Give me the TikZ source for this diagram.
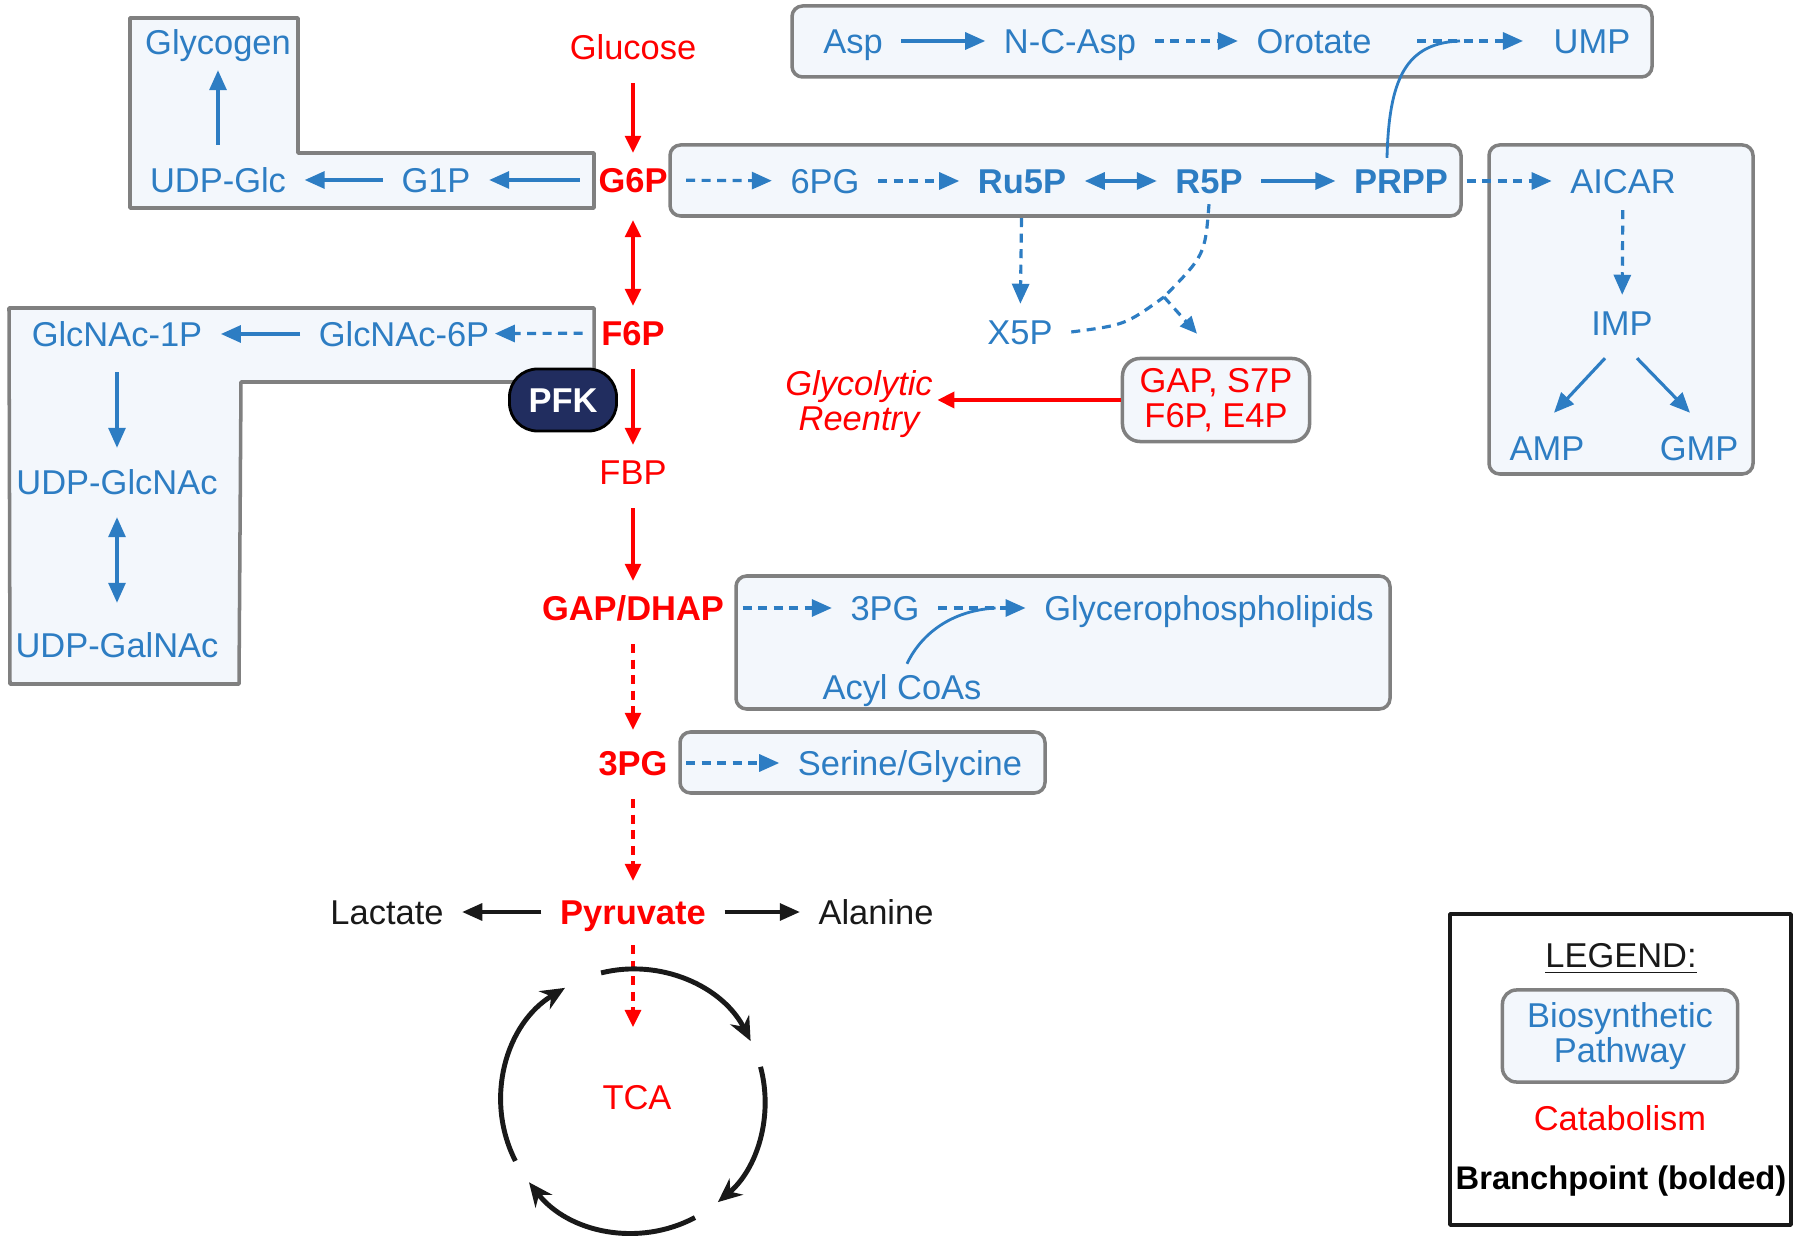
\documentclass[tikz,border=0pt]{standalone}
\usepackage{fontspec}
\setmainfont{Liberation Sans}
\usetikzlibrary{arrows.meta}
\definecolor{bioblue}{RGB}{45,125,195}
\definecolor{catred}{RGB}{255,0,0}
\definecolor{boxfill}{RGB}{243,247,252}
\definecolor{boxgray}{RGB}{128,128,128}
\definecolor{pfknavy}{RGB}{33,45,95}
\definecolor{ink}{RGB}{25,25,25}

\begin{document}
\begin{tikzpicture}
[x=0.01cm,y=-0.01cm,line join=round,%
  every node/.style={inner xsep=1.8mm,inner ysep=1mm,text height=2.5mm,text depth=0pt,
    font=\fontsize{9.8pt}{9.8pt}\selectfont},%
  bio/.style={text=bioblue},%
  cat/.style={text=catred},%
  bp/.style={font=\fontsize{9.8pt}{9.8pt}\selectfont\bfseries},%
  twoline/.style={text height=,text depth=,align=center},%
  pbox/.style={draw=boxgray,fill=boxfill,line width=1pt,rounded corners=3pt},%
  lbox/.style={draw=boxgray,fill=boxfill,line width=1pt},%
  ba/.style={draw=bioblue,line width=0.9pt,-{Triangle[length=2mm,width=1.7mm]}},%
  bab/.style={ba,{Triangle[length=2mm,width=1.7mm]}-{Triangle[length=2mm,width=1.7mm]}},%
  bd/.style={ba,dash pattern=on 0.9mm off 0.65mm},%
  bv/.style={shorten <=1.2mm,shorten >=0.5mm},%
  ra/.style={draw=catred,line width=0.9pt,-{Triangle[length=1.7mm,width=1.6mm]},shorten <=1.3mm,shorten >=0.4mm},%
  rd/.style={ra,dash pattern=on 0.9mm off 0.65mm,shorten >=1mm},%
  ka/.style={draw=ink,line width=0.9pt,-{Triangle[length=2mm,width=1.7mm]}},%
  cyc/.style={draw=ink,line width=1.4pt,-{Stealth[length=2.4mm,width=2.1mm]}}]
\useasboundingbox (0,0) rectangle (1800,1240);

\draw[lbox] (130,18) -- (298,18) -- (298,153) -- (594,153) -- (594,208) -- (130,208) -- cycle;
\draw[lbox] (9,308) -- (594,308) -- (594,382) -- (241,382) -- (239,684) -- (10,684) -- cycle;
\draw[pbox] (792,6) rectangle (1652,77);
\draw[pbox] (670,145) rectangle (1461,216);
\draw[pbox] (1489,145) rectangle (1753,474);
\draw[pbox] (736,576) rectangle (1390,709);
\draw[pbox] (680,732) rectangle (1045,793);
\draw[draw=ink,line width=1pt] (1450,914) rectangle (1791,1225);

\node[cat] (glc) at (633,47) {Glucose};
\node[cat,bp] (g6p) at (633,180) {G6P};
\node[cat,bp] (f6p) at (633,333) {F6P};
\node[cat] (fbp) at (633,472) {FBP};
\node[cat,bp] (gap) at (633,608) {GAP/DHAP};
\node[cat,bp] (pg3) at (633,763) {3PG};
\node[cat,bp] (pyr) at (633,912) {Pyruvate};
\node[cat] (tca) at (637,1097) {TCA};
\node[text=ink] (lac) at (387,912) {Lactate};
\node[text=ink] (ala) at (876,912) {Alanine};
\coordinate (tcain) at (633,1027);

\node[bio] (glyc) at (218,42) {Glycogen};
\node[bio] (udpglc) at (218,180) {UDP-Glc};
\node[bio] (g1p) at (436,180) {G1P};

\node[bio] (nac1p) at (117,334) {GlcNAc-1P};
\node[bio] (nac6p) at (404,334) {GlcNAc-6P};
\node[bio] (udpglcnac) at (117,482) {UDP-GlcNAc};
\node[bio] (udpgalnac) at (117,645) {UDP-GalNAc};
\node[draw=black,fill=pfknavy,text=white,bp,rounded corners=0.28cm,minimum width=1.07cm,
  minimum height=0.62cm,inner sep=0pt,line width=0.8pt] (pfk) at (563,400) {PFK};

\node[bio] (asp) at (853,41) {Asp};
\node[bio] (ncasp) at (1070,41) {N-C-Asp};
\node[bio] (oro) at (1314,41) {Orotate};
\node[bio] (ump) at (1592,41) {UMP};

\node[bio] (pg6) at (825,181) {6PG};
\node[bio,bp] (ru5p) at (1022,181) {Ru5P};
\node[bio,bp] (r5p) at (1209,181) {R5P};
\node[bio,bp] (prpp) at (1401,181) {PRPP};
\node[bio] (aicar) at (1623,181) {AICAR};
\node[bio] (imp) at (1622,323) {IMP};
\node[bio] (amp) at (1547,448) {AMP};
\node[bio] (gmp) at (1699,448) {GMP};
\node[bio] (x5p) at (1020,332) {X5P};
\coordinate (tk) at (1164,297);

\node[cat,twoline,draw=boxgray,fill=boxfill,line width=1pt,rounded corners=5pt,minimum width=1.87cm,
  minimum height=0.83cm,inner sep=0pt] (gs) at (1216,400) {GAP, S7P\\F6P, E4P};
\node[cat,twoline,font=\fontsize{9.8pt}{9.8pt}\selectfont\itshape,inner xsep=0.4mm] (reent) at (859,404) {Glycolytic\\Reentry};

\node[bio] (pg3b) at (885,608) {3PG};
\node[bio] (gpl) at (1209,608) {Glycerophospholipids};
\node[bio] (acyl) at (902,687) {Acyl CoAs};
\node[bio] (ser) at (910,763) {Serine/Glycine};

\node[text=ink] (leg) at (1621,955) {\underline{LEGEND:}};
\node[bio,twoline,draw=boxgray,fill=boxfill,line width=1pt,rounded corners=4pt,minimum width=2.35cm,
  minimum height=0.92cm,inner sep=0pt] (legbio) at (1620,1036) {Biosynthetic\\Pathway};
\node[cat] (legcat) at (1620,1118) {Catabolism};
\node[text=black,font=\fontsize{9.3pt}{10pt}\selectfont\bfseries] (legbp) at (1621,1177) {Branchpoint (bolded)};

\draw[ra] (glc) -- (g6p);
\draw[ra,{Triangle[length=1.7mm,width=1.6mm]}-{Triangle[length=1.7mm,width=1.6mm]},shorten <=1.7mm] (g6p) -- (f6p);
\draw[ra] (f6p) -- (fbp);
\draw[ra] (fbp) -- (gap);
\draw[rd] (gap) -- (pg3);
\draw[rd,shorten >=0.8mm] (pg3) -- (pyr);
\draw[rd,shorten <=1mm,shorten >=0pt] (pyr) -- (tcain);
\draw[ka] (pyr) -- (lac);
\draw[ka] (pyr) -- (ala);

\draw[ba] (g6p) -- (g1p);
\draw[ba] (g1p) -- (udpglc);
\draw[ba,bv] (udpglc) -- (glyc);
\draw[bd,shorten >=-1.3mm] (f6p) -- (nac6p);
\draw[ba] (nac6p) -- (nac1p);
\draw[ba,shorten <=1.5mm,shorten >=1.1mm] (nac1p) -- (udpglcnac);
\draw[bab,shorten <=1.2mm,shorten >=1.9mm] (udpglcnac) -- (udpgalnac);

\draw[ba] (asp) -- (ncasp);
\draw[bd] (ncasp) -- (oro);
\draw[bd,shorten <=2.7mm,shorten >=1.2mm] (oro) -- (ump);
\draw[draw=bioblue,line width=0.8pt] ([xshift=-0.14cm]prpp.north) .. controls (1389,80) and (1405,43) .. ([xshift=-0.75cm]ump.west);

\draw[bd] (g6p) -- (pg6);
\draw[bd] (pg6) -- (ru5p);
\draw[bab] (ru5p) -- (r5p);
\draw[ba] (r5p) -- (prpp);
\draw[bd] (prpp) -- (aicar);
\draw[bd,shorten <=0.6mm,shorten >=0.5mm] (aicar) -- (imp);
\draw[ba] ([xshift=-0.17cm,yshift=-0.12cm]imp.south) -- ([xshift=0.07cm,yshift=0.12cm]amp.north);
\draw[ba] ([xshift=0.15cm,yshift=-0.12cm]imp.south) -- ([xshift=-0.09cm,yshift=0.12cm]gmp.north);

\draw[bd,bv,shorten <=1.4mm] (ru5p) -- (x5p);
\draw[draw=bioblue,line width=0.9pt,dash pattern=on 0.9mm off 0.65mm] (r5p.south) .. controls (1205,255) .. (tk);
\draw[draw=bioblue,line width=0.9pt,dash pattern=on 0.9mm off 0.65mm] (x5p.east) .. controls (1125,325) .. (tk);
\draw[bd,-{Triangle[length=1.7mm,width=1.5mm]}] (tk) -- ([xshift=-0.19cm,yshift=0.23cm]gs.north);
\draw[ra,line width=1.1pt,shorten <=0pt,shorten >=0pt] (gs.west) -- (gs.west -| reent.east);

\draw[bd] (gap) -- (pg3b);
\draw[bd] (pg3b) -- (gpl);
\draw[draw=bioblue,line width=0.8pt] ([xshift=0.05cm]acyl.north) .. controls (918,640) and (945,611) .. ([xshift=-0.3cm]gpl.west);
\draw[bd] (pg3) -- (ser);

\coordinate (ctr) at (633,1101);
\draw[cyc] ([shift={(-104:132)}]ctr) arc[start angle=-104,end angle=-27,radius=132];
\draw[cyc] ([shift={(-15:132)}]ctr) arc[start angle=-15,end angle=50,radius=132];
\draw[cyc] ([shift={(62:132)}]ctr) arc[start angle=62,end angle=142,radius=132];
\draw[cyc] ([shift={(153:132)}]ctr) arc[start angle=153,end angle=239,radius=132];
\end{tikzpicture}
\end{document}
